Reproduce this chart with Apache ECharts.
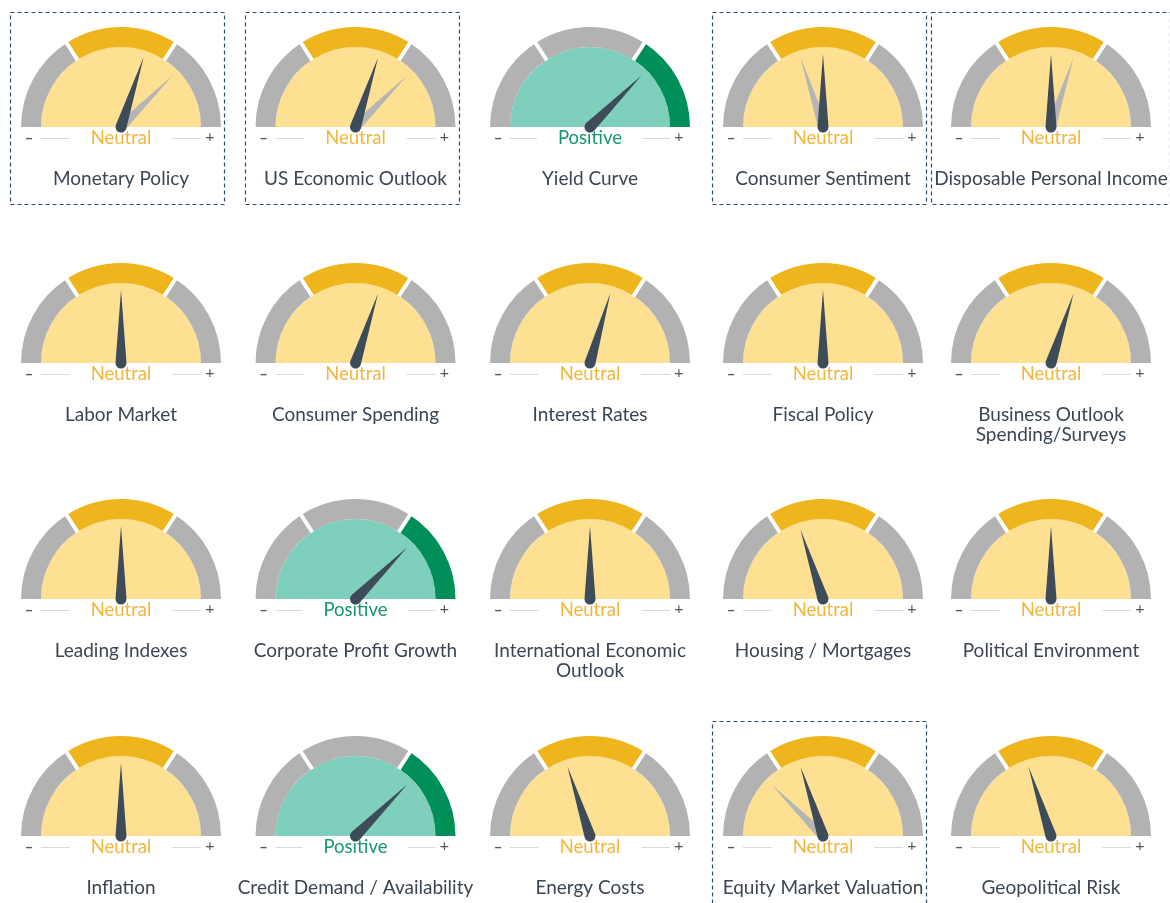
<!DOCTYPE html>
<html>
<head>
<meta charset="utf-8">
<title>Economic Indicators</title>
<script src="https://cdn.jsdelivr.net/npm/echarts@6/dist/echarts.min.js"></script>
<style>
  html, body { margin: 0; padding: 0; background: #fff; }
  #chart { width: 1170px; height: 903px; }
</style>
</head>
<body>
<div id="chart"></div>
<script>
// indicator names, in reading order (5 per row)
const categories = [
  'Monetary Policy', 'US Economic Outlook', 'Yield Curve', 'Consumer Sentiment', 'Disposable Personal Income',
  'Labor Market', 'Consumer Spending', 'Interest Rates', 'Fiscal Policy', 'Business Outlook\nSpending/Surveys',
  'Leading Indexes', 'Corporate Profit Growth', 'International Economic\nOutlook', 'Housing / Mortgages', 'Political Environment',
  'Inflation', 'Credit Demand / Availability', 'Energy Costs', 'Equity Market Valuation', 'Geopolitical Risk'
];
const statuses = [
  'Neutral', 'Neutral', 'Positive', 'Neutral', 'Neutral',
  'Neutral', 'Neutral', 'Neutral', 'Neutral', 'Neutral',
  'Neutral', 'Positive', 'Neutral', 'Neutral', 'Neutral',
  'Neutral', 'Positive', 'Neutral', 'Neutral', 'Neutral'
];
// 0 = fully negative, 100 = fully positive
const readings = [
  60, 60, 75, 50, 50,
  50, 60, 59, 50, 60,
  50, 75, 50, 40, 50,
  50, 75, 40, 40, 40
];
// previous reading (grey needle), null when unchanged
const priorReadings = [
  75, 75, null, 40, 60,
  null, null, null, null, null,
  null, null, null, null, null,
  null, null, null, 25, null
];
const endLabels = ['–', '+'];

// layout
const colX = [121, 355.5, 590, 823, 1051];
const rowY = [127, 363, 599, 836];
const FONT = 'Lato, "Noto Sans", sans-serif';
const LABEL_SIZE = 19;
const STATUS_SIZE = 18.5;

const palette = {
  Neutral: { disc: '#fde092', mid: '#efb51d', end: '#b2b2b2', text: '#f2b63a' },
  Positive: { disc: '#7ecfbb', mid: '#b2b2b2', end: '#008f59', text: '#16976f' }
};
// band edges as a share of the scale
const bandEdges = [0.317, 0.683, 1];

const ctx = document.createElement('canvas').getContext('2d');
function textWidth(str, size) {
  ctx.font = size + 'px ' + FONT;
  return Math.max(...str.split('\n').map((s) => ctx.measureText(s).width));
}

const needlePath = 'path://M5.5 0 L11 73 A5.5 5.5 0 0 1 0 73 Z';

const series = [];
const graphics = [];

categories.forEach((name, i) => {
  const cx = colX[i % 5];
  const cy = rowY[Math.floor(i / 5)];
  const st = statuses[i];
  const pal = palette[st];
  const lines = name.split('\n').length;

  const base = {
    type: 'gauge',
    center: [cx, cy],
    startAngle: 180,
    endAngle: 0,
    min: 0,
    max: 100,
    silent: true,
    axisTick: { show: false },
    axisLabel: { show: false },
    splitLine: { show: false },
    anchor: { show: false }
  };

  // inner half disc
  series.push(Object.assign({}, base, {
    z: 1,
    radius: 80,
    axisLine: { lineStyle: { width: 80, color: [[1, pal.disc]] } },
    pointer: { show: false },
    title: { show: false },
    detail: { show: false },
    data: [{ value: 0 }]
  }));

  // previous reading
  if (priorReadings[i] != null) {
    series.push(Object.assign({}, base, {
      z: 2,
      radius: 100,
      axisLine: { show: false },
      pointer: { icon: needlePath, width: 10, length: 78.5, offsetCenter: [0, 5.5] },
      itemStyle: { color: '#b5b5b5' },
      title: { show: false },
      detail: { show: false },
      data: [{ value: priorReadings[i] }]
    }));
  }

  // outer ring + current reading
  series.push(Object.assign({}, base, {
    z: 3,
    radius: 100,
    axisLine: {
      roundCap: false,
      lineStyle: { width: 20, color: [[bandEdges[0], '#b2b2b2'], [bandEdges[1], pal.mid], [1, pal.end]] }
    },
    pointer: { icon: needlePath, width: 11, length: 78.5, offsetCenter: [0, 5.5] },
    itemStyle: { color: '#3e4b58' },
    title: {
      offsetCenter: [0, 52 + (lines - 1) * 10],
      fontSize: LABEL_SIZE,
      lineHeight: 20,
      color: '#3a4653',
      fontFamily: FONT
    },
    detail: {
      offsetCenter: [0, 11],
      fontSize: STATUS_SIZE,
      fontWeight: 'normal',
      color: pal.text,
      fontFamily: FONT,
      formatter: () => st
    },
    data: [{ value: readings[i], name: name }]
  }));

  // white separators between the bands
  bandEdges.slice(0, 2).forEach((edge) => {
    const a = Math.PI * (1 - edge);
    const c = Math.cos(a), s = Math.sin(a);
    graphics.push({
      type: 'line', silent: true, z: 10,
      shape: { x1: cx + c * 79.5, y1: cy - s * 79.5, x2: cx + c * 101, y2: cy - s * 101 },
      style: { stroke: '#fff', lineWidth: 4 }
    });
  });

  // -  ——  status  ——  +
  const half = textWidth(st, STATUS_SIZE) / 2 + 21;
  const ly = cy + 11.5;
  graphics.push(
    { type: 'line', silent: true, shape: { x1: cx - 80, y1: ly, x2: cx - half, y2: ly }, style: { stroke: '#d3dae2', lineWidth: 1 } },
    { type: 'line', silent: true, shape: { x1: cx + half, y1: ly, x2: cx + 80, y2: ly }, style: { stroke: '#d3dae2', lineWidth: 1 } },
    { type: 'text', silent: true, x: cx - 92, y: cy + 11, style: { text: endLabels[0], fill: '#4f5861', font: 'bold 15px ' + FONT, align: 'center', verticalAlign: 'middle' } },
    { type: 'text', silent: true, x: cx + 89, y: cy + 10, style: { text: endLabels[1], fill: '#4f5861', font: '16px ' + FONT, align: 'center', verticalAlign: 'middle' } }
  );

  // dashed frame where the reading moved
  if (priorReadings[i] != null) {
    const lw = textWidth(name, LABEL_SIZE) / 2;
    const left = Math.min(cx - 111, cx - lw - 3);
    const right = Math.max(cx + 103, cx + lw + 3);
    graphics.push({
      type: 'rect', silent: true,
      shape: { x: Math.round(left) + 0.5, y: cy - 115 + 0.5, width: Math.round(right - left), height: 192 },
      style: { fill: 'none', stroke: '#2d4b6e', lineWidth: 1.2, lineDash: [4, 3] }
    });
  }
});

const chart = echarts.init(document.getElementById('chart'));
chart.setOption({
  animation: false,
  backgroundColor: '#fff',
  series: series,
  graphic: graphics
});
window.addEventListener('resize', () => chart.resize());
</script>
</body>
</html>
